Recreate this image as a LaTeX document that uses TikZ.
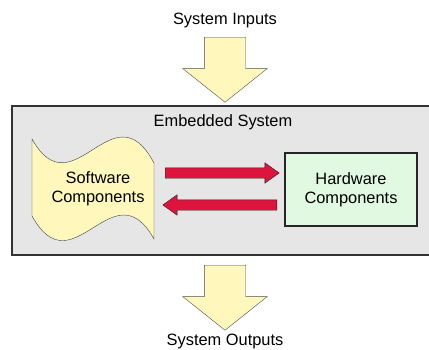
\documentclass[tikz,border=0pt]{standalone}
\usepackage{fontspec}
\setmainfont{Liberation Sans}
\usetikzlibrary{shapes.arrows}

\definecolor{boxgray}{RGB}{230,230,230}
\definecolor{paleyellow}{RGB}{255,247,187}
\definecolor{palegreen}{RGB}{224,249,224}
\definecolor{linkred}{RGB}{220,20,62}

\begin{document}
\begin{tikzpicture}[x=1pt, y=-1pt, font=\fontsize{16.4}{19}\selectfont,
    bigarrow/.style={single arrow, draw=black!70, fill=paleyellow, inner xsep=0pt, inner ysep=20.5pt,
        minimum width=84pt, minimum height=65pt, single arrow head extend=21.5pt,
        single arrow tip angle=103, rotate=-90, anchor=tail},
    redarrow/.style={single arrow, draw=black!85, fill=linkred, inner xsep=0pt, inner ysep=5pt,
        minimum width=20pt, minimum height=114pt, single arrow head extend=5pt,
        single arrow tip angle=71, anchor=tail}]
    \clip (0,0) rectangle (429,349);
    \fill[white] (0,0) rectangle (429,349);

    \node[] (inputs) at (225,20) {System Inputs};
    \node[bigarrow] (inarrow) at (225,37) {};

    \node[draw=black!80, line width=1.8pt, fill=boxgray, minimum width=421pt, minimum height=149pt] (system) at (222.5,180.5) {};
    \node[] (embedded) at (223,122) {Embedded System};

    \draw[black!75, fill=paleyellow] (32,139) .. controls (73,212) and (113,86) .. (154,163)
        -- (154,239) .. controls (113,166) and (73,290) .. (32,216) -- cycle;
    \node[align=center] (software) at (98,189) {Software\\Components};

    \node[draw=black!85, line width=1.4pt, fill=palegreen, minimum width=132pt, minimum height=73pt, align=center] (hardware) at (351,189.5) {Hardware\\Components};

    \node[redarrow] (tohw) at (165,173) {};
    \node[redarrow, shape border rotate=180] (tosw) at (277,205) {};

    \node[bigarrow] (outarrow) at (225,265) {};
    \node[] (outputs) at (225,341.5) {System Outputs};
\end{tikzpicture}
\end{document}
